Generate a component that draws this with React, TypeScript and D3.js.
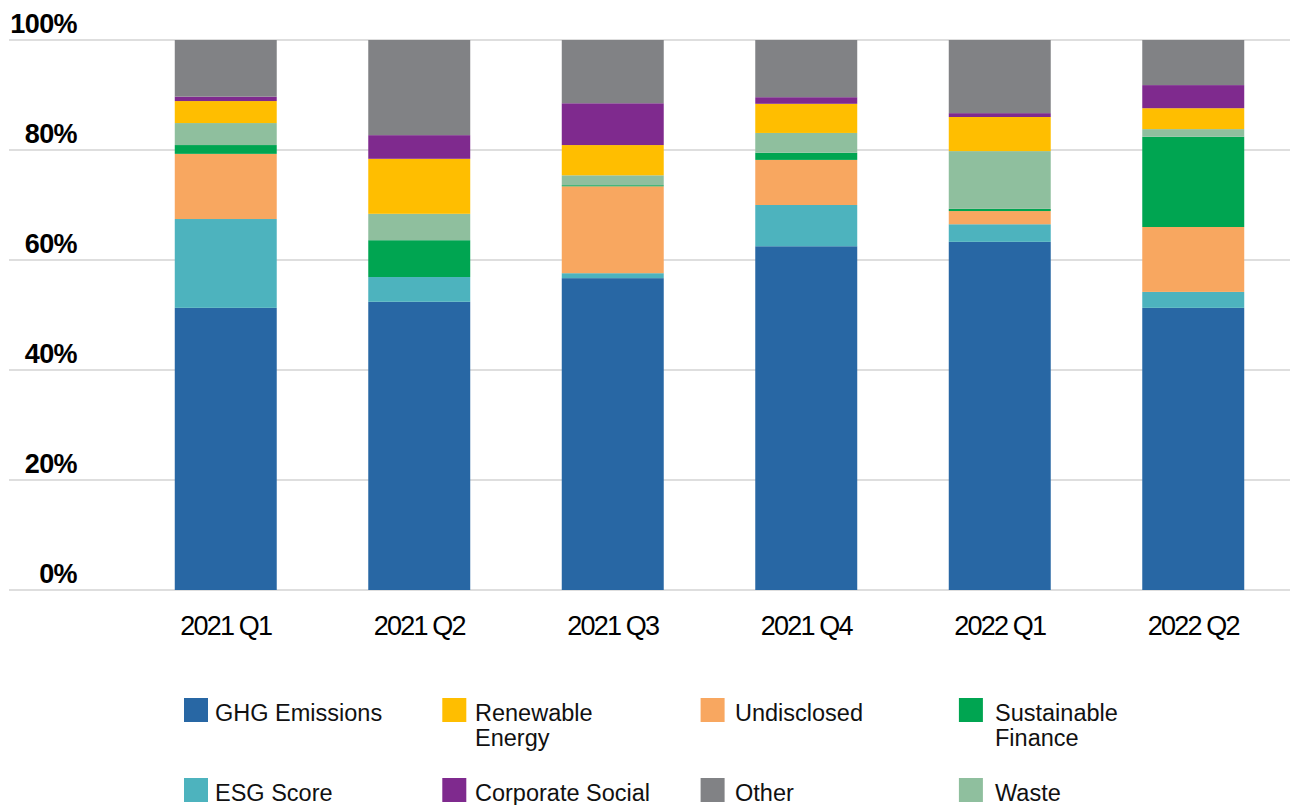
import React from "react";
import * as d3 from "d3";

const quarters = ["2021 Q1", "2021 Q2", "2021 Q3", "2021 Q4", "2022 Q1", "2022 Q2"];
const ghgEmissions = [51.3, 52.4, 56.7, 62.5, 63.3, 51.3];
const esgScore = [16.15, 4.5, 0.9, 7.5, 3.2, 2.9];
const undisclosed = [11.85, 0, 15.8, 8.2, 2.4, 11.8];
const sustainableFinance = [1.6, 6.7, 0.2, 1.3, 0.4, 16.4];
const waste = [4.0, 4.8, 1.8, 3.6, 10.5, 1.4];
const renewableEnergy = [4.0, 10.0, 5.5, 5.3, 6.2, 3.8];
const corporateSocial = [0.8, 4.3, 7.6, 1.2, 0.7, 4.2];
const other = [10.3, 17.3, 11.5, 10.4, 13.3, 8.2];
const yTicks = [0, 20, 40, 60, 80, 100];

const seriesKeys = ["ghg", "esg", "und", "sf", "waste", "re", "cs", "other"];
const seriesValues: Record<string, number[]> = {
  ghg: ghgEmissions,
  esg: esgScore,
  und: undisclosed,
  sf: sustainableFinance,
  waste: waste,
  re: renewableEnergy,
  cs: corporateSocial,
  other: other,
};
const colors: Record<string, string> = {
  ghg: "#2867a4",
  esg: "#4db3be",
  und: "#f8a760",
  sf: "#00a551",
  waste: "#8fbf9e",
  re: "#ffbe00",
  cs: "#7f2a8e",
  other: "#818285",
};

// legend order (row-major, 4 columns)
const legendItems: { key: string; lines: string[] }[] = [
  { key: "ghg", lines: ["GHG Emissions"] },
  { key: "re", lines: ["Renewable", "Energy"] },
  { key: "und", lines: ["Undisclosed"] },
  { key: "sf", lines: ["Sustainable", "Finance"] },
  { key: "esg", lines: ["ESG Score"] },
  { key: "cs", lines: ["Corporate Social"] },
  { key: "other", lines: ["Other"] },
  { key: "waste", lines: ["Waste"] },
];

const W = 1290;
const H = 805;
const FONT = "'Liberation Sans', Arial, sans-serif";

export default function App() {
  const rows = quarters.map((q, i) => {
    const r: any = { q };
    seriesKeys.forEach((k) => (r[k] = seriesValues[k][i]));
    return r;
  });
  const stacked = d3.stack<any>().keys(seriesKeys)(rows);

  const x = d3
    .scaleBand<string>()
    .domain(quarters)
    .range([129, 1290])
    .paddingInner(0.473)
    .paddingOuter(0.2365);
  const y = d3.scaleLinear().domain([0, 100]).range([590, 40]);

  return (
    <div style={{ position: "absolute", left: 0, top: 0 }}>
      <svg width={W} height={H} style={{ display: "block", background: "#fff" }}>
        {yTicks.map((t) => (
          <g key={t}>
            <line x1={9} x2={1290} y1={y(t)} y2={y(t)} stroke="#bdbdbd" strokeWidth={1} />
            <text
              x={77}
              y={y(t) - 7.5}
              textAnchor="end"
              fontFamily={FONT}
              fontWeight="bold"
              fontSize={27}
              letterSpacing={-0.6}
              fill="#000"
            >
              {t}%
            </text>
          </g>
        ))}
        {stacked.map((s) => (
          <g key={s.key} fill={colors[s.key]}>
            {s.map((d, i) => (
              <rect
                key={i}
                x={x(quarters[i])}
                width={x.bandwidth()}
                y={y(d[1])}
                height={Math.max(0, y(d[0]) - y(d[1]))}
              />
            ))}
          </g>
        ))}
        {quarters.map((q) => (
          <text
            key={q}
            x={(x(q) as number) + x.bandwidth() / 2}
            y={635}
            textAnchor="middle"
            fontFamily={FONT}
            fontSize={27}
            letterSpacing={-1.8}
            fill="#000"
          >
            {q}
          </text>
        ))}
        {legendItems.map((it, i) => {
          const col = i % 4;
          const row = Math.floor(i / 4);
          const sx = 184 + col * 258.3;
          const tx = 215 + col * 260;
          const sy = 698 + row * 80;
          return (
            <g key={it.key}>
              <rect x={sx} y={sy} width={24} height={24} fill={colors[it.key]} />
              {it.lines.map((ln, j) => (
                <text
                  key={j}
                  x={tx}
                  y={sy + 22.5 + j * 25}
                  fontFamily={FONT}
                  fontSize={23.5}
                  letterSpacing={0}
                  fill="#111"
                >
                  {ln}
                </text>
              ))}
            </g>
          );
        })}
      </svg>
    </div>
  );
}
